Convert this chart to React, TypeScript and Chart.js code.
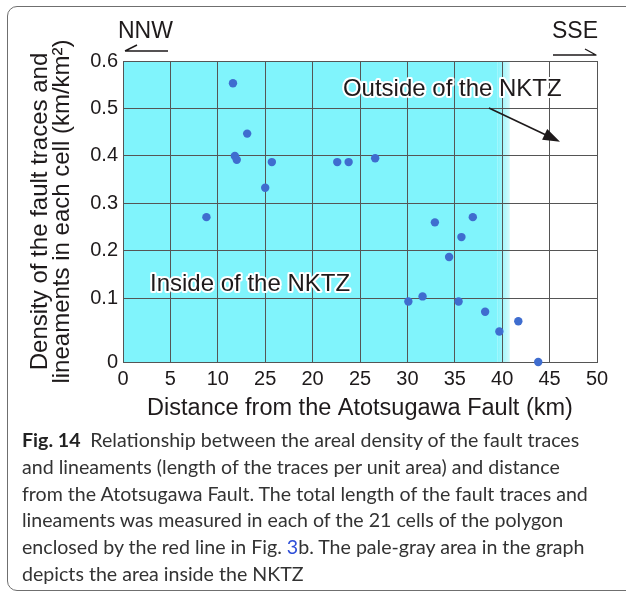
import React, { useEffect, useRef } from 'react';
import { Chart, registerables, LinearScale } from 'chart.js';

Chart.register(...registerables);

// ---- data ----
const distanceKm = [8.8, 11.6, 11.8, 12.0, 13.1, 15.0, 15.7, 22.6, 23.8, 26.6, 30.1, 31.6, 32.9, 34.4, 35.4, 35.7, 36.9, 38.2, 39.7, 41.7, 43.8];
const densityKmPerKm2 = [0.271, 0.553, 0.4, 0.392, 0.447, 0.333, 0.387, 0.387, 0.387, 0.395, 0.095, 0.104, 0.26, 0.187, 0.095, 0.229, 0.271, 0.079, 0.048, 0.064, 0.0];
const xTickLabels = ['0', '5', '10', '25', '20', '25', '30', '35', '40', '45', '50'];
const yTickLabels = ['0', '0.1', '0.2', '0.3', '0.4', '0.5', '0.6'];
const nktzRange = [0, 40.8];
const xTitle = 'Distance from the Atotsugawa Fault (km)';
const yTitle = ['Density of the fault traces and', 'lineaments in each cell (km/km\u00B2)'];
const insideLabel = 'Inside of the NKTZ';
const outsideLabel = 'Outside of the NKTZ';

// ---- styling constants ----
const Y_BREAK = 0.1;
const BREAK_FRAC = 0.2116;
const FONT = '"Liberation Sans", Arial, sans-serif';
const TEXT = '#1e1a1b';
const GRID = '#555555';
const CYAN = '#80f4fc';

class BrokenLinearScale extends LinearScale {
  static id = 'brokenLinear';
  static defaults = LinearScale.defaults;
  getPixelForValue(value: any) {
    if (value === null || value === undefined || isNaN(value)) return NaN;
    const min = (this as any).min;
    const max = (this as any).max;
    let dec;
    if (value <= Y_BREAK) dec = ((value - min) / (Y_BREAK - min)) * BREAK_FRAC;
    else dec = BREAK_FRAC + ((value - Y_BREAK) / (max - Y_BREAK)) * (1 - BREAK_FRAC);
    return (this as any).getPixelForDecimal(dec);
  }
  getValueForPixel(pixel: number) {
    const dec = (this as any).getDecimalForPixel(pixel);
    const min = (this as any).min;
    const max = (this as any).max;
    if (dec <= BREAK_FRAC) return min + (dec / BREAK_FRAC) * (Y_BREAK - min);
    return Y_BREAK + ((dec - BREAK_FRAC) / (1 - BREAK_FRAC)) * (max - Y_BREAK);
  }
}
Chart.register(BrokenLinearScale as any);

const bandPlugin = {
  id: 'nktzBand',
  beforeDraw(chart: any) {
    const { ctx, chartArea, scales } = chart;
    const x0 = scales.x.getPixelForValue(nktzRange[0]);
    const x1 = scales.x.getPixelForValue(nktzRange[1]);
    const xs = scales.x.getPixelForValue(nktzRange[1] - 1.3);
    ctx.save();
    ctx.fillStyle = CYAN;
    ctx.fillRect(x0, chartArea.top, xs - x0, chartArea.bottom - chartArea.top);
    const g = ctx.createLinearGradient(xs, 0, x1, 0);
    g.addColorStop(0, CYAN);
    g.addColorStop(1, '#d4fbfd');
    ctx.fillStyle = g;
    ctx.fillRect(xs, chartArea.top, x1 - xs, chartArea.bottom - chartArea.top);
    ctx.restore();
  },
};

function haloText(ctx: any, text: string, x: number, y: number) {
  ctx.lineJoin = 'round';
  ctx.strokeStyle = '#ffffff';
  ctx.lineWidth = 4;
  ctx.strokeText(text, x, y);
  ctx.fillStyle = TEXT;
  ctx.fillText(text, x, y);
}

const annotationPlugin = {
  id: 'annotations',
  afterDraw(chart: any) {
    const { ctx, chartArea, scales } = chart;
    const X = (v: number) => scales.x.getPixelForValue(v);
    const Y = (v: number) => scales.y.getPixelForValue(v);
    ctx.save();
    ctx.font = `24px ${FONT}`;
    ctx.textBaseline = 'middle';
    ctx.textAlign = 'left';
    haloText(ctx, outsideLabel, X(23.2), Y(0.541));
    haloText(ctx, insideLabel, X(2.85), Y(0.13));

    // arrow to outside zone
    const ax0 = X(38.6), ay0 = Y(0.501), ax1 = X(46.1), ay1 = Y(0.43);
    const ang = Math.atan2(ay1 - ay0, ax1 - ax0);
    ctx.strokeStyle = TEXT;
    ctx.fillStyle = TEXT;
    ctx.lineWidth = 1.6;
    ctx.beginPath();
    ctx.moveTo(ax0, ay0);
    ctx.lineTo(ax1 - 12 * Math.cos(ang), ay1 - 12 * Math.sin(ang));
    ctx.stroke();
    ctx.beginPath();
    ctx.moveTo(ax1, ay1);
    ctx.lineTo(ax1 - 17 * Math.cos(ang) + 6 * Math.sin(ang), ay1 - 17 * Math.sin(ang) - 6 * Math.cos(ang));
    ctx.lineTo(ax1 - 17 * Math.cos(ang) - 6 * Math.sin(ang), ay1 - 17 * Math.sin(ang) + 6 * Math.cos(ang));
    ctx.closePath();
    ctx.fill();

    // direction labels
    const { left, right, top } = chartArea;
    ctx.font = `23px ${FONT}`;
    ctx.fillStyle = TEXT;
    ctx.textAlign = 'left';
    ctx.fillText('NNW', left - 5, top - 29);
    ctx.textAlign = 'right';
    ctx.fillText('SSE', right + 1, top - 29);
    ctx.lineWidth = 1.4;
    ctx.beginPath();
    ctx.moveTo(left + 2, top - 10);
    ctx.lineTo(left + 45, top - 10);
    ctx.moveTo(left + 2, top - 10);
    ctx.lineTo(left + 14, top - 16);
    ctx.moveTo(right - 44, top - 6);
    ctx.lineTo(right - 1, top - 6);
    ctx.lineTo(right - 12, top - 12);
    ctx.stroke();
    ctx.restore();
  },
};

export default function App() {
  const ref = useRef<HTMLCanvasElement | null>(null);
  useEffect(() => {
    if (!ref.current) return;
    const chart = new Chart(ref.current, {
      type: 'scatter',
      data: {
        datasets: [
          {
            label: 'Density',
            data: distanceKm.map((x, i) => ({ x, y: densityKmPerKm2[i] })),
            backgroundColor: '#3f6dcf',
            borderWidth: 0,
            pointRadius: 4.2,
            clip: false as any,
          },
        ],
      },
      plugins: [bandPlugin, annotationPlugin],
      options: {
        animation: false,
        responsive: false,
        maintainAspectRatio: false,
        layout: { padding: { top: 61, right: 29, left: 0, bottom: 0 } },
        plugins: { legend: { display: false }, tooltip: { enabled: false } },
        scales: {
          x: {
            type: 'linear',
            min: 0,
            max: 50,
            afterFit: (s: any) => { s.height = 68; },
            ticks: {
              stepSize: 5,
              padding: 5,
              color: TEXT,
              font: { family: FONT, size: 20 },
              callback: (_v: any, i: number) => xTickLabels[i],
            },
            grid: { color: GRID, lineWidth: 1, drawTicks: false },
            border: { color: GRID, width: 1 },
            title: {
              display: true,
              text: xTitle,
              color: TEXT,
              font: { family: FONT, size: 23.5, lineHeight: 1.2 },
              padding: { top: 0, bottom: 7 },
            },
          },
          y: {
            type: 'brokenLinear' as any,
            min: 0,
            max: 0.6,
            afterFit: (s: any) => { s.width = 123; },
            ticks: {
              stepSize: 0.1,
              padding: 5,
              color: TEXT,
              font: { family: FONT, size: 20 },
              callback: (_v: any, i: number) => yTickLabels[i],
            },
            grid: { color: GRID, lineWidth: 1, drawTicks: false },
            border: { color: GRID, width: 1 },
            title: {
              display: true,
              text: yTitle,
              color: TEXT,
              font: { family: FONT, size: 24, lineHeight: 0.95 },
              padding: { top: 28.5, bottom: 0 },
            },
          } as any,
        },
      } as any,
    });
    return () => chart.destroy();
  }, []);

  return (
    <div style={{ position: 'fixed', left: 0, top: 0, width: 626, height: 596, overflow: 'hidden', background: '#fff' }}>
      <div
        style={{
          position: 'absolute',
          left: 7,
          top: 6,
          width: 660,
          height: 585,
          border: '1px solid #6f6f6f',
          borderRadius: 10,
          boxSizing: 'border-box',
        }}
      />
      <div style={{ position: 'absolute', left: 0, top: 0, width: 626, height: 430 }}>
        <canvas ref={ref} width={626} height={430} style={{ width: 626, height: 430, display: 'block' }} />
      </div>
      <div
        style={{
          position: 'absolute',
          left: 22,
          top: 427,
          fontFamily: 'Lato, sans-serif',
          fontSize: 19.6,
          lineHeight: '26.8px',
          color: '#333',
          whiteSpace: 'nowrap',
        }}
      >
        <b style={{ color: '#222' }}>Fig. 14</b>
        {'\u2002'}Relationship between the areal density of the fault traces
        <br />
        and lineaments (length of the traces per unit area) and distance
        <br />
        from the Atotsugawa Fault. The total length of the fault traces and
        <br />
        lineaments was measured in each of the 21 cells of the polygon
        <br />
        enclosed by the red line in Fig. <span style={{ color: '#2f4fd8' }}>3</span>b. The pale-gray area in the graph
        <br />
        depicts the area inside the NKTZ
      </div>
    </div>
  );
}
